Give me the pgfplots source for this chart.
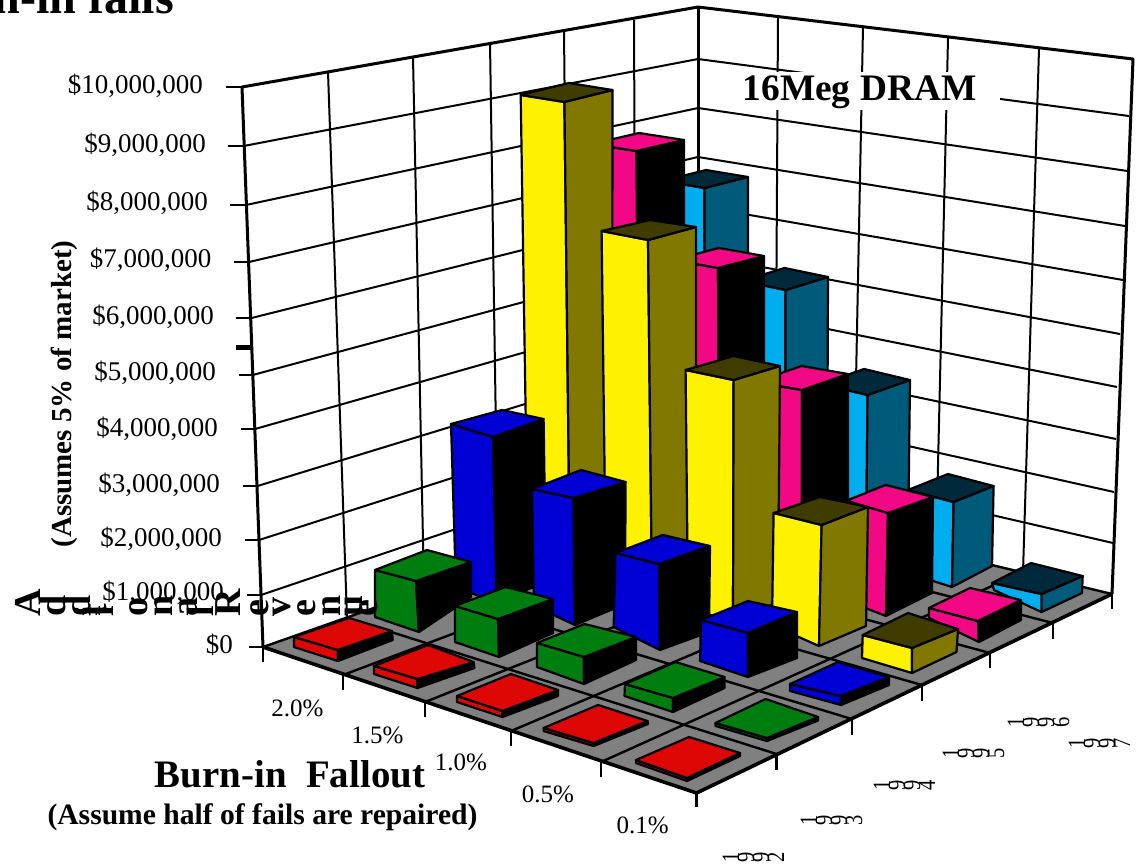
\documentclass[border=0pt]{standalone}
\usepackage{pgfplots}
\pgfplotsset{compat=1.18}
\usepackage{fontspec}
\setmainfont{Liberation Serif}
\definecolor{cRed}{RGB}{221,8,6}
\definecolor{cGreen}{RGB}{0,125,15}
\definecolor{cBlue}{RGB}{0,0,212}
\definecolor{cYellow}{RGB}{255,242,0}
\definecolor{cYellowR}{RGB}{128,120,0}
\definecolor{cYellowT}{RGB}{64,60,0}
\definecolor{cPink}{RGB}{242,8,132}
\definecolor{cCyan}{RGB}{0,174,239}
\definecolor{cCyanR}{RGB}{0,90,122}
\definecolor{cCyanT}{RGB}{0,42,60}
\definecolor{cFloor}{RGB}{128,128,128}
\pgfplotsset{
  face/.style={draw=black,line width=2.2pt,line join=round},
  red L/.style={fill=cRed},red R/.style={fill=black},red T/.style={fill=cRed},
  green L/.style={fill=cGreen},green R/.style={fill=black},green T/.style={fill=cGreen},
  blue L/.style={fill=cBlue},blue R/.style={fill=black},blue T/.style={fill=cBlue},
  yellow L/.style={fill=cYellow},yellow R/.style={fill=cYellowR},yellow T/.style={fill=cYellowT},
  pink L/.style={fill=cPink},pink R/.style={fill=black},pink T/.style={fill=cPink},
  cyan L/.style={fill=cCyan},cyan R/.style={fill=cCyanR},cyan T/.style={fill=cCyanT},
}
% one column in projected coordinates: series, then top back, top left,
% top front, top right, base right, base front, base left
\newcommand\column[8]{%
  \addplot[face,#1 L] coordinates {#3 #4 #7 #8} --cycle;
  \addplot[face,#1 R] coordinates {#4 #5 #6 #7} --cycle;
  \addplot[face,#1 T] coordinates {#3 #2 #5 #4} --cycle;
}
\newcommand\money[3]{\node[anchor=base east,inner sep=0pt,font=\fontsize{27}{30}\selectfont] at (#1,#2) {\$#3};}
\newcommand\pct[3]{\node[anchor=center,inner sep=0pt,font=\fontsize{25}{30}\selectfont] at (#1,#2) {#3};}
\newcommand\sideways[2]{\node[rotate=90,anchor=base west,inner sep=0pt,font=\fontsize{38}{40}\selectfont\bfseries] at (#1,617) {#2};}
\newcommand\yeardigit[3]{\node[rotate=90,anchor=base,inner sep=0pt,font=\fontsize{25}{26}\selectfont] at (#1,#2) {\scalebox{.82}[1]{#3}};}
\newcommand\yearlabel[6]{%
  \pgfmathsetmacro\xa{#1+16}\pgfmathsetmacro\xb{#1+31}\pgfmathsetmacro\xc{#1+46}\pgfmathsetmacro\xd{#1+61}%
  \edef\temp{\noexpand\yeardigit{\xa}{#2}{#3}\noexpand\yeardigit{\xb}{#2}{#4}\noexpand\yeardigit{\xc}{#2}{#5}\noexpand\yeardigit{\xd}{#2}{#6}}\temp
}
\begin{document}
\begin{tikzpicture}
\useasboundingbox (0,0) rectangle (1140pt,863pt);
\clip (0,0) rectangle (1140pt,863pt);
\begin{axis}[
  at={(0,0)},anchor=south west,scale only axis,width=1140pt,height=863pt,
  xmin=0,xmax=1140,ymin=0,ymax=863,y dir=reverse,hide axis,clip=false,
  grid line/.style={draw=black,line width=2pt},
]
% walls: horizontal rules on the left wall
\addplot[grid line] coordinates {(243.6,146) (698,59)};
\addplot[grid line] coordinates {(246,205) (698,108)};
\addplot[grid line] coordinates {(249,262) (698,157)};
\addplot[grid line] coordinates {(251.6,318) (698,206)};
\addplot[grid line] coordinates {(252.7,375) (698,255)};
\addplot[grid line] coordinates {(255,429) (698,303)};
\addplot[grid line] coordinates {(257.5,486) (698,351)};
\addplot[grid line] coordinates {(259,540) (698,399)};
\addplot[grid line] coordinates {(261,595) (698,447)};
% horizontal rules on the right wall
\addplot[grid line] coordinates {(698,59) (1129,116)};
\addplot[grid line] coordinates {(698,108) (1127.5,171)};
\addplot[grid line] coordinates {(698,157) (1125,226)};
\addplot[grid line] coordinates {(698,206) (1123,280)};
\addplot[grid line] coordinates {(698,255) (1120,334)};
\addplot[grid line] coordinates {(698,303) (1117,387)};
\addplot[grid line] coordinates {(698,351) (1116,439)};
\addplot[grid line] coordinates {(698,399) (1114,492)};
\addplot[grid line] coordinates {(698,447) (1113,543)};
% vertical rules on both walls
\addplot[grid line] coordinates {(328,72) (347,618)};
\addplot[grid line] coordinates {(413,57) (424,590)};
\addplot[grid line] coordinates {(490,43) (498,564)};
\addplot[grid line] coordinates {(564,30) (569,539)};
\addplot[grid line] coordinates {(634,20) (636,516)};
\addplot[grid line] coordinates {(778,18) (775,513)};
\addplot[grid line] coordinates {(863,27) (853,532)};
\addplot[grid line] coordinates {(948,38) (936,551)};
\addplot[grid line] coordinates {(1039,49) (1023,572)};
% wall frame
\addplot[draw=black,line width=3pt,line join=round] coordinates {(263,647) (242,87) (698,7) (1133,59) (1112,594)};
\addplot[draw=black,line width=3pt] coordinates {(698,7) (698,494)};
% floor
\addplot[fill=cFloor,draw=none] coordinates {(263,647) (696.5,793) (1112,594) (698,494)} --cycle;
\addplot[draw=black,line width=2.4pt] coordinates {(263,647) (698,494) (1112,594)};
\addplot[draw=black,line width=2.4pt] coordinates {(343,675) (775,513)};
\addplot[draw=black,line width=2.4pt] coordinates {(425,702) (853,532)};
\addplot[draw=black,line width=2.4pt] coordinates {(511,731) (936,551)};
\addplot[draw=black,line width=2.4pt] coordinates {(601,762) (1023,572)};
\addplot[draw=black,line width=2.4pt] coordinates {(776.5,754) (347,618)};
\addplot[draw=black,line width=2.4pt] coordinates {(852,719) (424,590)};
\addplot[draw=black,line width=2.4pt] coordinates {(922,685) (498,564)};
\addplot[draw=black,line width=2.4pt] coordinates {(990,653) (569,539)};
\addplot[draw=black,line width=2.4pt] coordinates {(1053,623) (636,516)};
\addplot[draw=black,line width=3.6pt,line join=round] coordinates {(263,647) (696.5,793) (1112,594)};
% outward ticks under the floor and on the revenue scale
\addplot[draw=black,line width=2.2pt] coordinates {(263,647) (263,662)};
\addplot[draw=black,line width=2.2pt] coordinates {(343,675) (343,690)};
\addplot[draw=black,line width=2.2pt] coordinates {(425,702) (425,717)};
\addplot[draw=black,line width=2.2pt] coordinates {(511,731) (511,746)};
\addplot[draw=black,line width=2.2pt] coordinates {(601,762) (601,777)};
\addplot[draw=black,line width=2.2pt] coordinates {(696.5,793) (696.5,807)};
\addplot[draw=black,line width=2.2pt] coordinates {(776.5,754) (776.5,770)};
\addplot[draw=black,line width=2.2pt] coordinates {(852,719) (852,735)};
\addplot[draw=black,line width=2.2pt] coordinates {(922,685) (922,701)};
\addplot[draw=black,line width=2.2pt] coordinates {(990,653) (990,668)};
\addplot[draw=black,line width=2.2pt] coordinates {(1053,623) (1053,639)};
\addplot[draw=black,line width=2.2pt] coordinates {(1112,594) (1112,609)};
\addplot[draw=black,line width=2.2pt] coordinates {(226,87) (242,87)};
\addplot[draw=black,line width=2.2pt] coordinates {(228,146) (243.6,146)};
\addplot[draw=black,line width=2.2pt] coordinates {(230,205) (246,205)};
\addplot[draw=black,line width=2.2pt] coordinates {(234,262) (249,262)};
\addplot[draw=black,line width=2.2pt] coordinates {(236,318) (251.6,318)};
\addplot[draw=black,line width=2.2pt] coordinates {(239,375) (252.7,375)};
\addplot[draw=black,line width=2.2pt] coordinates {(241,429) (255,429)};
\addplot[draw=black,line width=2.2pt] coordinates {(243,486) (257.5,486)};
\addplot[draw=black,line width=2.2pt] coordinates {(245,540) (259,540)};
\addplot[draw=black,line width=2.2pt] coordinates {(247,595) (261,595)};
\addplot[draw=black,line width=2.2pt] coordinates {(249,647) (263,647)};
\addplot[draw=black,line width=5pt] coordinates {(236,347) (251,347)};
% 1997
\column{cyan}{(706,170)}{(662.5,181)}{(704.5,188)}{(748,177)}{(748,505)}{(705,519)}{(663,505)}
\column{cyan}{(784.5,268)}{(742,281)}{(785.6,290)}{(828,277)}{(827,522)}{(785,541)}{(743,527)}
\column{cyan}{(864,369)}{(821.5,384)}{(867.5,395)}{(910,380)}{(908,545)}{(866,563)}{(823,550)}
\column{cyan}{(948,474)}{(908,490)}{(953.6,502)}{(993.6,486)}{(992,566)}{(952,587)}{(908,573)}
\column{cyan}{(1031,563)}{(992,583)}{(1041.6,594)}{(1082.7,576)}{(1082,593)}{(1041.6,612)}{(994,590)}
% 1996
\column{pink}{(639,133)}{(591.5,144)}{(636.5,151)}{(684,140)}{(684,530)}{(640,548)}{(594,535)}
\column{pink}{(719,248)}{(673,260)}{(718,268)}{(764,256)}{(764,551)}{(720,570)}{(675,557)}
\column{pink}{(801.6,366)}{(755.6,382)}{(802,390)}{(848,374)}{(848,572)}{(802,592)}{(757,578)}
\column{pink}{(885.6,485)}{(846.4,500.7)}{(888,513)}{(933,497)}{(932,593)}{(886,616)}{(845,600)}
\column{pink}{(970,588)}{(929,608)}{(978,621)}{(1021,600)}{(1021,620)}{(979,642)}{(929,618)}
% 1995
\column{yellow}{(569,83)}{(520.7,95)}{(564.4,102)}{(612.5,90)}{(612,558)}{(570,575)}{(528,565)}
\column{yellow}{(650,220)}{(601.6,231)}{(648,240)}{(696,227)}{(696,578)}{(652,598)}{(606,585)}
\column{yellow}{(733.6,356)}{(685.6,370)}{(733.6,380)}{(780,366)}{(778,602)}{(733,622)}{(688,608)}
\column{yellow}{(820,497)}{(773.6,513)}{(821.6,525)}{(868,507)}{(866,626)}{(819,646)}{(772,625)}
\column{yellow}{(908,613)}{(862.7,635)}{(912,648)}{(958,629)}{(956.5,652)}{(912,673)}{(862,658)}
% 1994
\column{blue}{(502,410)}{(451,424)}{(493,437)}{(543.6,419)}{(546,582)}{(497,602)}{(456,588)}
\column{blue}{(581,470)}{(532,489)}{(573.6,498)}{(625.6,482)}{(625,604)}{(575,625)}{(534,606)}
\column{blue}{(662.7,535)}{(615.5,553)}{(659,564)}{(710,546)}{(709,632)}{(660,650)}{(613.6,627)}
\column{blue}{(748,601)}{(701,620)}{(748,633)}{(797,612)}{(797,658)}{(748,677)}{(700,661)}
\column{blue}{(838,662)}{(790,684)}{(841,696)}{(889,677)}{(889,685)}{(841,705)}{(790,691)}
% 1993
\column{green}{(427,550)}{(375,570)}{(416,581)}{(471,562)}{(471,597)}{(419,632)}{(375,617)}
\column{green}{(505.5,587)}{(455,606)}{(498,619)}{(553,599)}{(553,633)}{(499,657)}{(455,642)}
\column{green}{(584.5,624)}{(537,643)}{(584,657)}{(636,637)}{(636,660)}{(584,684)}{(537,667)}
\column{green}{(675.5,662)}{(625,684)}{(673,698)}{(724.5,677)}{(724.5,688)}{(673,712)}{(624.5,696)}
\column{green}{(765.6,699)}{(715.5,723)}{(767,738)}{(818,717)}{(818,720.5)}{(767,741)}{(715.5,726)}
% 1992
\column{red}{(349,618)}{(294,637)}{(338,650)}{(392,631)}{(392.7,640)}{(338,661)}{(294,647)}
\column{red}{(428,645)}{(374,666)}{(417.5,679)}{(473.5,662)}{(474.5,668)}{(417.5,688)}{(374,674)}
\column{red}{(511,674)}{(457,696)}{(502.5,711)}{(558,690)}{(558,696)}{(502.5,717)}{(457,702)}
\column{red}{(598,705)}{(543.6,728)}{(593.6,743)}{(647.5,721)}{(648,724)}{(593.6,746)}{(543.6,731)}
\column{red}{(689,737)}{(636,760)}{(687,778)}{(740,753)}{(740,756)}{(687,781)}{(636,763)}
% titles and captions
\node[anchor=base east,inner sep=0pt,font=\fontsize{48}{50}\selectfont\bfseries] at (174,13) {Burn-in fails};
\node[fill=white,inner sep=0pt,minimum width=265pt,minimum height=38pt] at (867.5,91) {};
\node[anchor=base,inner sep=0pt,font=\fontsize{37.4}{40}\selectfont\bfseries] at (859.5,100) {16Meg DRAM};
\node[rotate=90,anchor=center,inner sep=0pt,font=\fontsize{29}{32}\selectfont\bfseries] at (64,394) {(Assumes 5\% of market)};
\node[anchor=base,inner sep=0pt,font=\fontsize{38.9}{40}\selectfont\bfseries] at (290,787) {Burn-in\ \ Fallout};
\node[anchor=base,inner sep=0pt,font=\fontsize{29.6}{32}\selectfont\bfseries] at (262.5,824) {(Assume half of fails are repaired)};
% revenue scale
\money{203}{93}{10,000,000}
\money{206}{152}{9,000,000}
\money{208}{210}{8,000,000}
\money{211.6}{267}{7,000,000}
\money{214}{324}{6,000,000}
\money{216}{380}{5,000,000}
\money{218}{436}{4,000,000}
\money{220}{492}{3,000,000}
\money{222}{546}{2,000,000}
\money{224}{600}{1,000,000}
\money{233}{653}{0}
% fallout categories
\pct{297.5}{708}{2.0\%}
\pct{377.5}{735}{1.5\%}
\pct{461}{762}{1.0\%}
\pct{548}{794}{0.5\%}
\pct{642.7}{825}{0.1\%}
% years, set digit by digit on their sides
\yearlabel{723}{857}{1}{9}{9}{2}
\yearlabel{801}{820}{1}{9}{9}{3}
\yearlabel{874}{785}{1}{9}{9}{4}
\yearlabel{943}{753}{1}{9}{9}{5}
\yearlabel{1008}{722}{1}{9}{9}{6}
\yearlabel{1069}{743}{1}{9}{9}{7}
% axis title, letter by letter on their sides
\sideways{40}{A}
\sideways{65}{d}
\sideways{90}{d}
\sideways{100}{i}
\sideways{106}{t}
\sideways{113}{i}
\sideways{147}{o}
\sideways{172}{n}
\sideways{197}{a}
\sideways{213}{l}
\sideways{240}{R}
\sideways{268}{e}
\sideways{290}{v}
\sideways{315}{e}
\sideways{340}{n}
\sideways{362}{u}
\sideways{377}{e}
\end{axis}
\end{tikzpicture}
\end{document}
